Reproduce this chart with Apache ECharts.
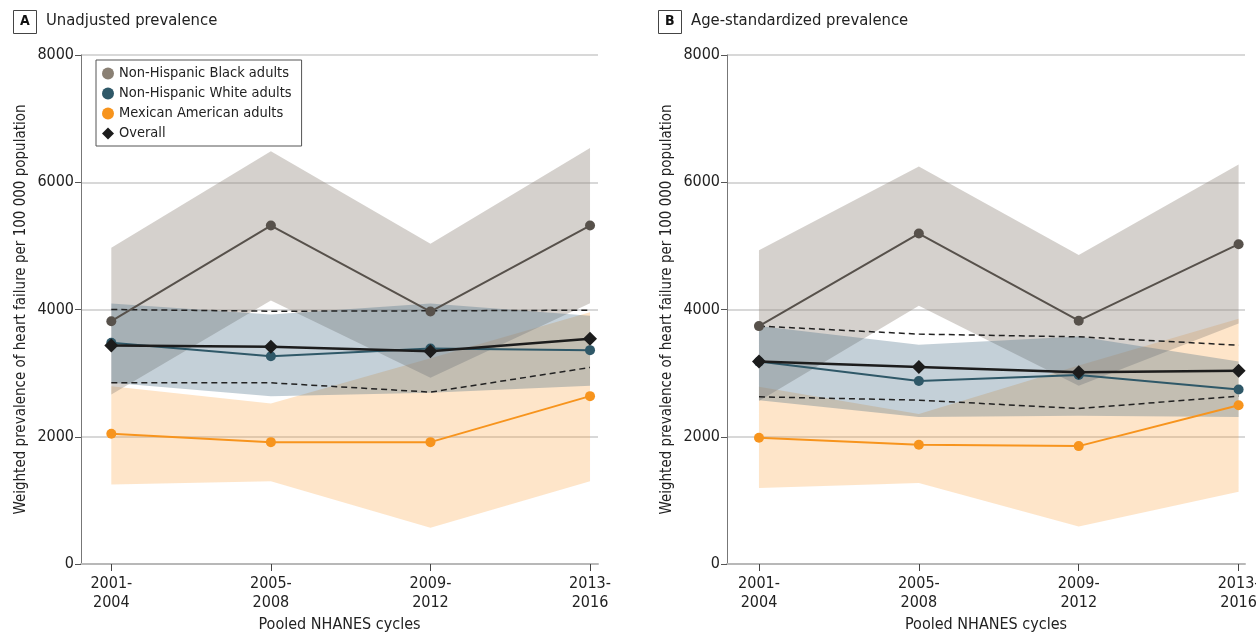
<!DOCTYPE html>
<html><head><meta charset="utf-8">
<script src="https://cdn.jsdelivr.net/npm/echarts@6/dist/echarts.min.js"></script>
<style>html,body{margin:0;padding:0;background:#fff}#c{width:1256px;height:633px}</style>
</head><body><div id="c"></div>
<script>
const CATEGORIES = ['2001-\n2004','2005-\n2008','2009-\n2012','2013-\n2016'];
const Y_TICKS = [0, 2000, 4000, 6000, 8000];
const GROUPS = ['Non-Hispanic Black adults','Non-Hispanic White adults','Mexican American adults','Overall'];

// Panel A: unadjusted prevalence
const A_black   = [3816, 5319, 3968, 5319];
const A_blackLo = [2664, 4141, 2927, 4100];
const A_blackHi = [4969, 6487, 5032, 6540];
const A_white   = [3477, 3266, 3387, 3361];
const A_whiteLo = [2848, 2638, 2691, 2800];
const A_whiteHi = [4094, 3921, 4094, 3900];
const A_mex     = [2047, 1915, 1915, 2638];
const A_mexLo   = [1250, 1302, 570, 1302];
const A_mexHi   = [2795, 2523, 3234, 3957];
const A_all     = [3434, 3414, 3345, 3539];
const A_allLo   = [2848, 2848, 2701, 3089];
const A_allHi   = [4000, 3973, 3979, 3989];

// Panel B: age-standardized prevalence
const B_black   = [3739, 5194, 3824, 5026];
const B_blackLo = [2560, 4060, 2800, 3780];
const B_blackHi = [4931, 6248, 4857, 6280];
const B_white   = [3181, 2876, 2970, 2743];
const B_whiteLo = [2575, 2311, 2330, 2311];
const B_whiteHi = [3739, 3445, 3576, 3181];
const B_mex     = [1985, 1874, 1853, 2496];
const B_mexLo   = [1194, 1273, 588, 1137];
const B_mexHi   = [2786, 2358, 3118, 3855];
const B_all     = [3181, 3097, 3012, 3039];
const B_allLo   = [2628, 2575, 2443, 2639];
const B_allHi   = [3739, 3613, 3571, 3439];

const FONT = '"Liberation Sans Narrow","DejaVu Sans Condensed","Open Sans",sans-serif';
const C_BLACK = '#57514b', C_WHITE = '#2f5868', C_MEX = '#f7941d', C_ALL = '#1c1c1c';

const pts = arr => arr.map((v, i) => [i, v]);

function band(p, lo, hi, fill) {
  return {
    type: 'custom', xAxisIndex: p, yAxisIndex: p, silent: true, z: 1,
    data: [[0, lo[0]]],
    renderItem: (params, api) => {
      const points = [];
      for (let i = 0; i < hi.length; i++) points.push(api.coord([i, hi[i]]));
      for (let i = lo.length - 1; i >= 0; i--) points.push(api.coord([i, lo[i]]));
      return { type: 'polygon', shape: { points }, style: { fill } };
    }
  };
}
function line(p, name, arr, color, opt) {
  return Object.assign({
    type: 'line', name, xAxisIndex: p, yAxisIndex: p, z: 3,
    data: pts(arr), symbol: 'circle', symbolSize: 10,
    lineStyle: { color, width: 2 }, itemStyle: { color }, silent: true, animation: false
  }, opt || {});
}
function dashed(p, arr) {
  return {
    type: 'line', xAxisIndex: p, yAxisIndex: p, z: 2, data: pts(arr), showSymbol: false, symbol: 'none',
    lineStyle: { color: '#222', width: 1.5, type: [6, 4] }, silent: true
  };
}
function panelSeries(p, d) {
  return [
    band(p, d.mexLo, d.mexHi, 'rgba(250,150,40,0.25)'),
    band(p, d.blackLo, d.blackHi, 'rgba(150,140,130,0.4)'),
    band(p, d.whiteLo, d.whiteHi, 'rgba(60,100,125,0.3)'),
    dashed(p, d.allLo), dashed(p, d.allHi),
    line(p, GROUPS[2], d.mex, C_MEX),
    line(p, GROUPS[1], d.white, C_WHITE),
    line(p, GROUPS[0], d.black, C_BLACK),
    line(p, GROUPS[3], d.all, C_ALL, { symbol: 'diamond', symbolSize: 14, lineStyle: { color: C_ALL, width: 2.5 }, z: 4 })
  ];
}
const grids = [
  { left: 81, top: 55, width: 517, height: 509, outerBoundsMode: 'none', containLabel: false },
  { left: 727, top: 55, width: 518, height: 509, outerBoundsMode: 'none', containLabel: false }
];
function xAxis(p, min, max) {
  return {
    type: 'value', gridIndex: p, min, max,
    name: 'Pooled NHANES cycles', nameLocation: 'middle', nameGap: 52,
    nameTextStyle: { fontFamily: FONT, fontSize: 16, color: '#222' },
    axisLine: { show: true, onZero: false, lineStyle: { color: '#b8b8b8', width: 2 } },
    axisTick: { show: true, customValues: [0, 1, 2, 3], length: 7, lineStyle: { color: '#444', width: 1 } },
    axisLabel: { customValues: [0, 1, 2, 3], formatter: v => CATEGORIES[Math.round(v)], margin: 10,
      fontFamily: FONT, fontSize: 16, color: '#222', lineHeight: 19 },
    splitLine: { show: false }
  };
}
function yAxis(p) {
  return {
    type: 'value', gridIndex: p, min: 0, max: 8000, interval: 2000,
    name: 'Weighted prevalence of heart failure per 100 000 population',
    nameLocation: 'middle', nameGap: 52,
    nameTextStyle: { fontFamily: FONT, fontSize: 15, color: '#222' },
    axisLine: { show: true, onZero: false, lineStyle: { color: '#777', width: 1 } },
    axisTick: { show: true, length: 6, lineStyle: { color: '#555' } },
    axisLabel: { formatter: v => String(v), margin: 7, fontFamily: FONT, fontSize: 16, color: '#222' },
    splitLine: { show: true, lineStyle: { color: '#d8d8d8', width: 2 } }
  };
}
function titleGraphic(x, letter, text) {
  return [
    { type: 'rect', left: x, top: 10, shape: { width: 23, height: 23 }, style: { fill: '#fff', stroke: '#444', lineWidth: 1 } },
    { type: 'text', left: x + 7, top: 14, style: { text: letter, font: 'bold 14px ' + FONT, fill: '#111' } },
    { type: 'text', left: x + 33, top: 12, style: { text, font: '16.5px ' + FONT, fill: '#222' } }
  ];
}
const dA = {black:A_black, blackLo:A_blackLo, blackHi:A_blackHi, white:A_white, whiteLo:A_whiteLo, whiteHi:A_whiteHi,
  mex:A_mex, mexLo:A_mexLo, mexHi:A_mexHi, all:A_all, allLo:A_allLo, allHi:A_allHi};
const dB = {black:B_black, blackLo:B_blackLo, blackHi:B_blackHi, white:B_white, whiteLo:B_whiteLo, whiteHi:B_whiteHi,
  mex:B_mex, mexLo:B_mexLo, mexHi:B_mexHi, all:B_all, allLo:B_allLo, allHi:B_allHi};

const chart = echarts.init(document.getElementById('c'), null, { renderer: 'canvas' });
chart.setOption({
  animation: false,
  backgroundColor: '#fff',
  grid: grids,
  xAxis: [xAxis(0, -0.19, 3.05), xAxis(1, -0.2, 3.04)],
  yAxis: [yAxis(0), yAxis(1)],
  legend: {
    left: 96, top: 60, orient: 'vertical', z: 10,
    backgroundColor: '#fff', borderColor: '#555', borderWidth: 1, padding: [6, 10, 5, 6],
    itemWidth: 12, itemHeight: 12, itemGap: 5, selectedMode: false,
    textStyle: { fontFamily: FONT, fontSize: 14.5, color: '#222', lineHeight: 14 },
    data: [
      { name: GROUPS[0], icon: 'circle', itemStyle: { color: '#8a8074' } },
      { name: GROUPS[1], icon: 'circle', itemStyle: { color: '#2f5868' } },
      { name: GROUPS[2], icon: 'circle', itemStyle: { color: '#f7941d' } },
      { name: GROUPS[3], icon: 'diamond', itemStyle: { color: '#1c1c1c' } }
    ]
  },
  graphic: [].concat(titleGraphic(13, 'A', 'Unadjusted prevalence'), titleGraphic(658, 'B', 'Age-standardized prevalence')),
  series: [].concat(panelSeries(0, dA), panelSeries(1, dB))
});
</script></body></html>
